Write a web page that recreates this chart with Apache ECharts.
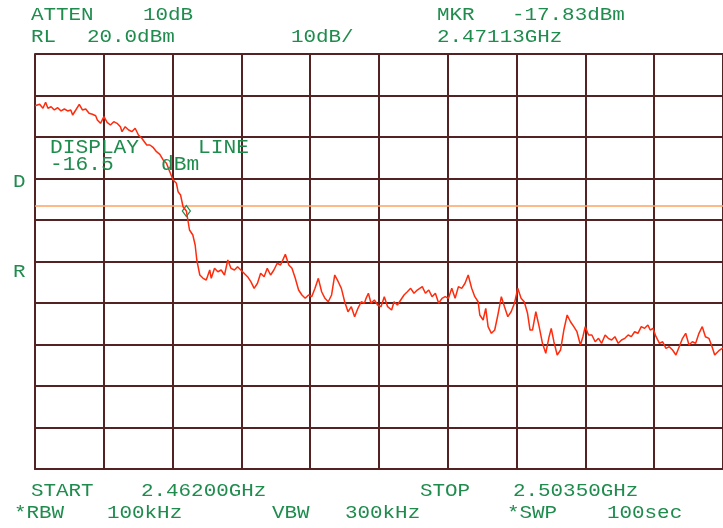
<!DOCTYPE html>
<html>
<head>
<meta charset="utf-8">
<script src="https://cdn.jsdelivr.net/npm/echarts@6/dist/echarts.min.js"></script>
<style>
html,body{margin:0;padding:0;background:#fff;}
#c{width:723px;height:528px;}
</style>
</head>
<body>
<div id="c"></div>
<script>
// ---- Data ----
const START_MHZ = 2462.00;
const STOP_MHZ = 2503.50;
const REF_LEVEL_DBM = 20;
const DB_PER_DIV = 10;
const Y_DIVS = 10;
const X_DIVS = 10;
const DISPLAY_LINE_DBM = -16.5;
const MARKER_MHZ = 2471.13;
const MARKER_DBM = -17.83;

const FREQ_MHZ = [2462.00,2462.08,2462.28,2462.48,2462.64,2462.78,2462.97,2463.17,2463.37,2463.57,
2463.77,2463.97,2464.16,2464.27,2464.46,2464.67,2464.86,2465.06,2465.26,2465.46,
2465.66,2465.76,2465.95,2466.16,2466.35,2466.55,2466.75,2466.95,2467.15,2467.25,
2467.44,2467.65,2467.84,2468.04,2468.24,2468.44,2468.74,2468.93,2469.14,2469.33,
2469.53,2469.73,2469.93,2470.13,2470.33,2470.53,2470.63,2470.78,2470.93,2471.13,
2471.22,2471.32,2471.52,2471.66,2471.76,2471.94,2472.14,2472.33,2472.54,2472.63,
2472.83,2473.03,2473.23,2473.43,2473.63,2473.82,2474.03,2474.22,2474.52,2474.82,
2475.02,2475.22,2475.42,2475.61,2475.82,2476.01,2476.21,2476.41,2476.61,2476.81,
2477.10,2477.31,2477.50,2477.70,2477.90,2478.10,2478.30,2478.50,2478.69,2478.89,
2479.09,2479.29,2479.49,2479.69,2479.89,2480.08,2480.29,2480.48,2480.68,2480.88,
2481.08,2481.28,2481.48,2481.68,2481.87,2481.97,2482.11,2482.27,2482.47,2482.67,
2482.87,2483.07,2483.27,2483.51,2483.66,2483.86,2484.06,2484.26,2484.46,2484.66,
2484.86,2485.06,2485.36,2485.55,2485.75,2485.95,2486.15,2486.35,2486.55,2486.74,
2486.94,2487.14,2487.34,2487.54,2487.74,2487.94,2488.13,2488.34,2488.53,2488.73,
2488.83,2489.03,2489.19,2489.33,2489.53,2489.73,2489.92,2490.13,2490.32,2490.52,
2490.72,2490.92,2491.12,2491.32,2491.51,2491.71,2491.86,2492.01,2492.21,2492.41,
2492.61,2492.81,2493.01,2493.14,2493.30,2493.50,2493.70,2493.90,2494.10,2494.30,
2494.50,2494.69,2494.90,2495.05,2495.19,2495.39,2495.59,2495.79,2495.99,2496.18,
2496.39,2496.58,2496.78,2496.98,2497.18,2497.38,2497.58,2497.78,2497.97,2498.17,
2498.37,2498.57,2498.77,2498.97,2499.11,2499.27,2499.46,2499.67,2499.86,2500.06,
2500.26,2500.46,2500.66,2500.86,2501.06,2501.25,2501.45,2501.65,2501.85,2502.05,
2502.25,2502.44,2502.65,2502.84,2503.00,2503.25,2503.50];

const LEVEL_DBM = [7.54,7.30,7.88,6.92,8.36,6.92,7.30,6.51,7.06,6.27,
6.75,6.27,6.51,5.30,6.51,7.88,6.51,6.75,5.71,5.47,
5.13,4.10,3.30,4.89,3.54,2.89,3.69,3.30,2.48,1.28,
2.48,1.69,1.28,2.10,0.48,-0.31,-1.93,-1.93,-2.58,-3.54,
-4.17,-5.54,-6.34,-8.36,-10.36,-11.16,-13.18,-13.98,-16.80,-17.83,
-20.00,-22.41,-23.61,-26.02,-29.64,-33.25,-34.05,-34.46,-32.05,-34.05,
-31.64,-32.46,-32.05,-33.25,-29.64,-31.64,-32.05,-31.25,-32.46,-33.66,
-34.87,-36.46,-35.25,-32.84,-33.66,-31.64,-33.25,-32.05,-30.43,-30.84,
-28.27,-30.84,-31.64,-34.05,-36.87,-38.07,-38.87,-38.07,-38.48,-36.46,
-34.05,-37.28,-38.87,-39.69,-38.07,-33.25,-34.87,-36.46,-39.69,-42.10,
-40.89,-43.30,-41.28,-39.69,-40.07,-38.87,-37.66,-40.07,-39.28,-40.48,
-40.89,-38.48,-40.89,-41.69,-39.69,-40.48,-39.28,-38.07,-37.28,-36.46,
-37.66,-36.87,-36.07,-37.66,-36.87,-38.48,-37.66,-40.07,-38.87,-38.48,
-38.87,-36.46,-38.87,-36.07,-36.46,-35.25,-33.25,-36.46,-38.48,-39.69,
-42.89,-44.10,-41.28,-45.71,-47.30,-46.51,-42.89,-38.48,-40.89,-43.30,
-42.10,-40.07,-36.46,-38.87,-39.69,-42.48,-46.51,-46.51,-42.10,-45.71,
-49.71,-52.12,-48.12,-46.10,-49.33,-52.53,-51.33,-46.51,-42.89,-44.51,
-45.71,-46.92,-50.12,-48.12,-45.71,-47.71,-47.71,-49.33,-48.51,-49.71,
-47.71,-48.51,-48.92,-48.12,-49.71,-48.92,-48.51,-47.71,-48.12,-46.92,
-47.30,-45.71,-46.10,-45.30,-46.51,-46.10,-48.12,-49.71,-49.33,-50.92,
-50.53,-51.33,-52.53,-50.53,-48.51,-47.30,-50.12,-49.33,-49.71,-47.30,
-45.71,-48.12,-48.51,-50.53,-52.53,-51.50,-50.80];

// Annotation texts (screen labels of the analyzer)
const TOP_ROW1 = ['ATTEN', '10dB', 'MKR', '-17.83dBm'];
const TOP_ROW2 = ['RL', '20.0dBm', '10dB/', '2.47113GHz'];
const BOTTOM_ROW1 = ['START', '2.46200GHz', 'STOP', '2.50350GHz'];
const BOTTOM_ROW2 = ['*RBW', '100kHz', 'VBW', '300kHz', '*SWP', '100sec'];
const DISPLAY_TEXT = ['DISPLAY', 'LINE', '-16.5', 'dBm'];
const SIDE_LABELS = ['D', 'R'];

// ---- Chart ----
const GREEN = '#1f8c4e';
const GRIDC = '#532222';
const spanMHz = STOP_MHZ - START_MHZ;
const seriesData = FREQ_MHZ.map((f, i) => [f - START_MHZ, LEVEL_DBM[i]]);

function txt(s, x, y, size, sx) {
  return {
    type: 'text', x: x, y: y, scaleX: sx, z: 100,
    style: { text: s, font: size + 'px "Liberation Mono", monospace', fill: GREEN,
             align: 'left', verticalAlign: 'middle', textAlign: 'left', textVerticalAlign: 'middle' }
  };
}
const TS = 18, TSX = 1.16;
const graphics = [
  txt(TOP_ROW1[0], 31, 15, TS, TSX), txt(TOP_ROW1[1], 143, 15, TS, TSX),
  txt(TOP_ROW1[2], 437, 15, TS, TSX), txt(TOP_ROW1[3], 512, 15, TS, TSX),
  txt(TOP_ROW2[0], 31, 37, TS, TSX), txt(TOP_ROW2[1], 87, 37, TS, TSX),
  txt(TOP_ROW2[2], 291, 37, TS, TSX), txt(TOP_ROW2[3], 437, 37, TS, TSX),
  txt(BOTTOM_ROW1[0], 31, 491, TS, TSX), txt(BOTTOM_ROW1[1], 141, 491, TS, TSX),
  txt(BOTTOM_ROW1[2], 420, 491, TS, TSX), txt(BOTTOM_ROW1[3], 513, 491, TS, TSX),
  txt(BOTTOM_ROW2[0], 14, 513, TS, TSX), txt(BOTTOM_ROW2[1], 107, 513, TS, TSX),
  txt(BOTTOM_ROW2[2], 272, 513, TS, TSX), txt(BOTTOM_ROW2[3], 345, 513, TS, TSX),
  txt(BOTTOM_ROW2[4], 507, 513, TS, TSX), txt(BOTTOM_ROW2[5], 607, 513, TS, TSX),
  txt(DISPLAY_TEXT[0], 50, 148, 20, 1.06), txt(DISPLAY_TEXT[1], 198, 148, 20, 1.06),
  txt(DISPLAY_TEXT[2], 50, 165, 20, 1.06), txt(DISPLAY_TEXT[3], 161, 165, 20, 1.06),
  txt(SIDE_LABELS[0], 13, 182, TS, TSX), txt(SIDE_LABELS[1], 13, 272, TS, TSX)
];

const chart = echarts.init(document.getElementById('c'), null, { renderer: 'canvas' });
chart.setOption({
  animation: false,
  backgroundColor: '#ffffff',
  grid: { left: 35, top: 54, width: 696, height: 415, containLabel: false },
  xAxis: {
    type: 'value', min: 0, max: spanMHz, interval: spanMHz / X_DIVS,
    axisLabel: { show: false }, axisTick: { show: false },
    axisLine: { show: true, onZero: false, lineStyle: { color: GRIDC, width: 2 } },
    splitLine: { show: true, lineStyle: { color: GRIDC, width: 2 } }
  },
  yAxis: {
    type: 'value', min: REF_LEVEL_DBM - DB_PER_DIV * Y_DIVS, max: REF_LEVEL_DBM, interval: DB_PER_DIV,
    axisLabel: { show: false }, axisTick: { show: false },
    axisLine: { show: true, onZero: false, lineStyle: { color: GRIDC, width: 2 } },
    splitLine: { show: true, lineStyle: { color: GRIDC, width: 2 } }
  },
  series: [{
    type: 'line', data: seriesData, symbol: 'none', sampling: null,
    lineStyle: { color: '#ff2b0d', width: 1.5 },
    z: 5,
    markLine: {
      silent: true, symbol: ['none', 'none'], label: { show: false },
      lineStyle: { color: '#ffa060', width: 1.6, type: 'solid' },
      data: [{ yAxis: DISPLAY_LINE_DBM }]
    },
    markPoint: {
      silent: true, symbol: 'diamond', symbolSize: [8, 11], label: { show: false },
      itemStyle: { color: '#ffffff', borderColor: GREEN, borderWidth: 1.3 },
      data: [{ coord: [MARKER_MHZ - START_MHZ, MARKER_DBM] }]
    }
  }],
  graphic: graphics
});
</script>
</body>
</html>
